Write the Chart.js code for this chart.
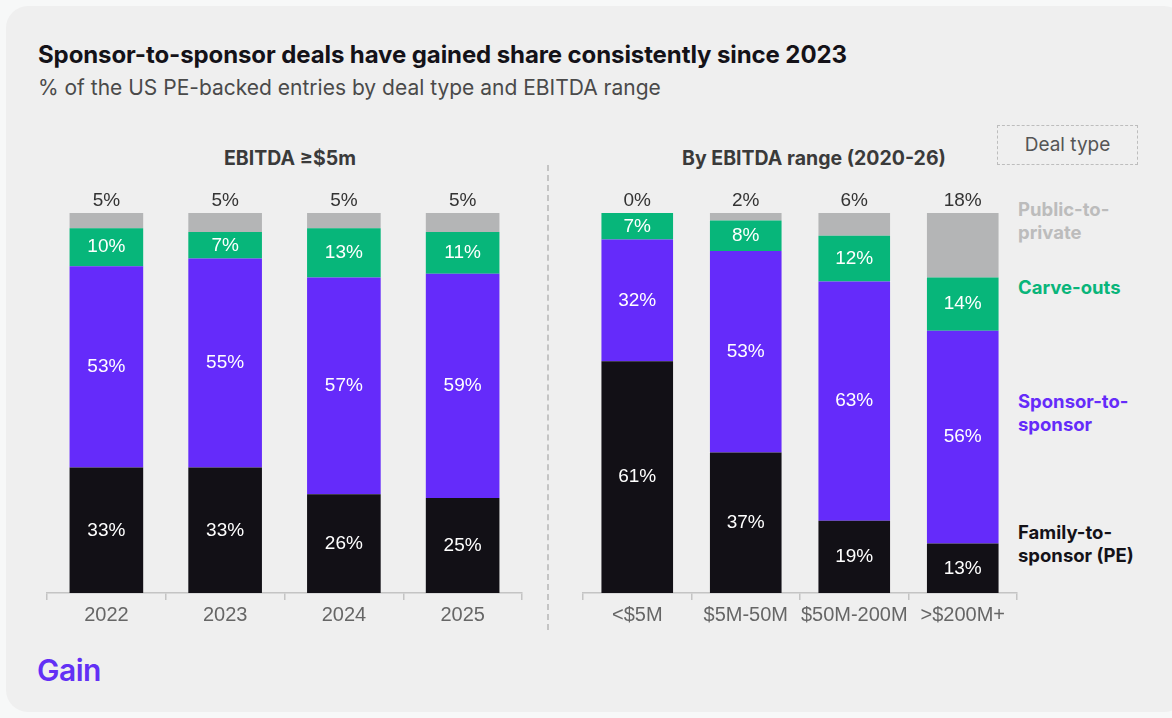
<!DOCTYPE html>
<html>
<head>
<meta charset="utf-8">
<script src="https://cdn.jsdelivr.net/npm/chart.js@4.4.1/dist/chart.umd.min.js"></script>
<style>
  html, body { margin: 0; padding: 0; background: #f7f8f8; }
  body { width: 1172px; height: 718px; position: relative; overflow: hidden; font-family: Inter, "Liberation Sans", sans-serif; }
  .card { position: absolute; left: 6px; top: 6px; width: 1180px; height: 706px; background: #efefef; border-radius: 22px; }
  .abs { position: absolute; white-space: nowrap; }
  #title { left: 38px; top: 40px; font-size: 24px; font-weight: 700; color: #141218; letter-spacing: -0.1px; }
  #subtitle { left: 38px; top: 75px; font-size: 21px; color: #4a4a4a; }
  .panelTitle { top: 146px; font-size: 19.5px; font-weight: 700; color: #3a3a3a; transform: translateX(-50%); }
  #divider { left: 547px; top: 165px; height: 465px; border-left: 2px dashed #c4c4c4; }
  #dealBox { left: 997px; top: 125px; width: 141px; height: 40px; border: 1.5px dashed #bdbdbd; box-sizing: border-box;
             font-size: 19px; color: #555; text-align: center; line-height: 37px; }
  .legend { left: 1018px; font-size: 18.5px; font-weight: 700; line-height: 23px; }
  #logo { left: 37px; top: 652px; font-size: 30px; font-weight: 600; color: #6230f5; letter-spacing: -0.5px; }
  canvas { position: absolute; }
</style>
</head>
<body>
<div class="card"></div>
<div id="title" class="abs">Sponsor-to-sponsor deals have gained share consistently since 2023</div>
<div id="subtitle" class="abs">% of the US PE-backed entries by deal type and EBITDA range</div>
<div class="abs panelTitle" style="left:290px">EBITDA ≥$5m</div>
<div class="abs panelTitle" style="left:814px">By EBITDA range (2020-26)</div>
<div id="divider" class="abs"></div>
<div id="dealBox" class="abs">Deal type</div>
<div class="abs legend" style="top:198px;color:#bcbcbc">Public-to-<br>private</div>
<div class="abs legend" style="top:276px;color:#09b57a">Carve-outs</div>
<div class="abs legend" style="top:390px;color:#652bfa">Sponsor-to-<br>sponsor</div>
<div class="abs legend" style="top:521px;color:#141218">Family-to-<br>sponsor (PE)</div>
<div id="logo" class="abs">Gain</div>

<canvas id="leftChart" style="left:30px;top:110px;width:510px;height:540px" width="510" height="540"></canvas>
<canvas id="rightChart" style="left:560px;top:110px;width:480px;height:540px" width="480" height="540"></canvas>

<script>
// categories
const years = ['2022', '2023', '2024', '2025'];
const ranges = ['<$5M', '$5M-50M', '$50M-200M', '>$200M+'];

// shares by year (EBITDA >= $5m)
const familyByYear = [33, 33, 26, 25];
const sponsorByYear = [53, 55, 57, 59];
const carveByYear = [10, 7, 13, 11];
const publicByYear = [5, 5, 5, 5];

// shares by EBITDA range
const familyByRange = [61, 37, 19, 13];
const sponsorByRange = [32, 53, 63, 56];
const carveByRange = [7, 8, 12, 14];
const publicByRange = [0, 2, 6, 18];

const COLORS = {
    family: '#121016',
    sponsor: '#652bfa',
    carve: '#07b67a',
    publicP: '#b4b5b6'
};

Chart.defaults.font.family = '"Liberation Sans", Arial, sans-serif';

// writes the % values: inside each segment, and above the bar for the top segment
const segmentLabels = {
    id: 'segmentLabels',
    afterDatasetsDraw(chart) {
        const ctx = chart.ctx;
        const top = chart.chartArea.top;
        ctx.save();
        ctx.font = '19px "Liberation Sans", Arial, sans-serif';
        ctx.textAlign = 'center';
        ctx.textBaseline = 'middle';
        chart.data.datasets.forEach((ds, i) => {
            const meta = chart.getDatasetMeta(i);
            meta.data.forEach((bar, j) => {
                const v = ds.data[j];
                if (i === chart.data.datasets.length - 1) {
                    ctx.fillStyle = '#333';
                    ctx.fillText(v + '%', bar.x, top - 12);
                } else {
                    ctx.fillStyle = '#fff';
                    ctx.fillText(v + '%', bar.x, (Math.max(bar.y, top) + bar.base) / 2);
                }
            });
        });
        ctx.restore();
    }
};

function makeDatasets(family, sponsor, carve, pub) {
    return [
        { label: 'Family-to-sponsor (PE)', data: family, backgroundColor: COLORS.family },
        { label: 'Sponsor-to-sponsor', data: sponsor, backgroundColor: COLORS.sponsor },
        { label: 'Carve-outs', data: carve, backgroundColor: COLORS.carve },
        { label: 'Public-to-private', data: pub, backgroundColor: COLORS.publicP }
    ];
}

function makeOptions(pad, barPct) {
    return {
        responsive: false,
        animation: false,
        layout: { padding: pad },
        datasets: { bar: { barPercentage: barPct, categoryPercentage: 1, borderWidth: 0 } },
        plugins: { legend: { display: false }, tooltip: { enabled: false } },
        scales: {
            x: {
                stacked: true,
                grid: { drawOnChartArea: false, drawTicks: true, tickLength: 7, color: '#c4c4c4', lineWidth: 1.5 },
                border: { display: true, color: '#c4c4c4', width: 1.5 },
                ticks: { color: '#666', font: { size: 20 }, padding: 3, maxRotation: 0, minRotation: 0, autoSkip: false }
            },
            y: { stacked: true, display: false, min: 0, max: 100 }
        }
    };
}

new Chart(document.getElementById('leftChart'), {
    type: 'bar',
    data: { labels: years, datasets: makeDatasets(familyByYear, sponsorByYear, carveByYear, publicByYear) },
    options: makeOptions({ top: 103, left: 17, right: 18, bottom: 20 }, 0.62),
    plugins: [segmentLabels]
});

new Chart(document.getElementById('rightChart'), {
    type: 'bar',
    data: { labels: ranges, datasets: makeDatasets(familyByRange, sponsorByRange, carveByRange, publicByRange) },
    options: makeOptions({ top: 103, left: 23, right: 23, bottom: 20 }, 0.66),
    plugins: [segmentLabels]
});
</script>
</body>
</html>
